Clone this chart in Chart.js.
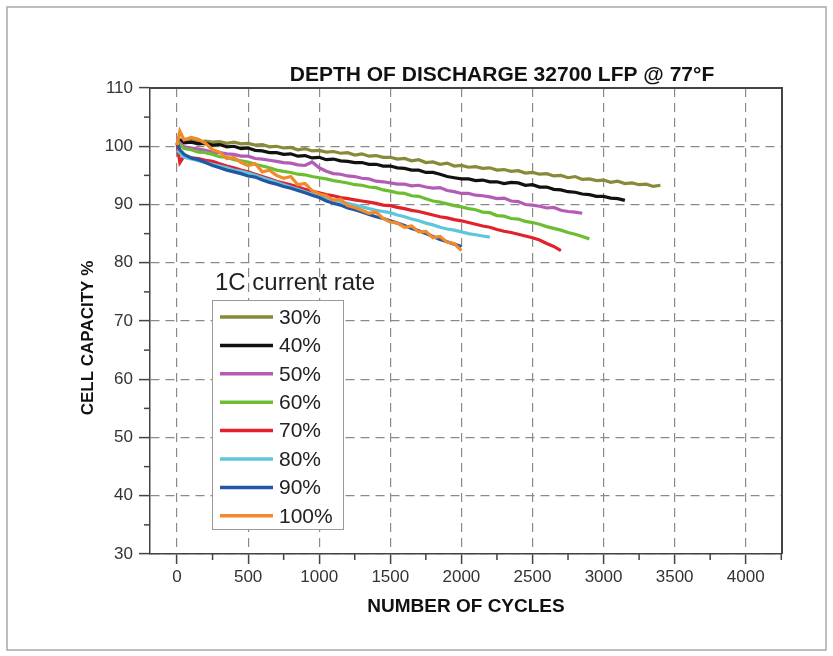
<!DOCTYPE html>
<html>
<head>
<meta charset="utf-8">
<script src="https://cdn.jsdelivr.net/npm/chart.js@4.4.1/dist/chart.umd.min.js"></script>
<style>
  html, body { margin: 0; padding: 0; background: #fff; }
  #wrap { width: 833px; height: 656px; position: relative; }
</style>
</head>
<body>
<div id="wrap"><canvas id="grafico"></canvas></div>
<script>
// ciclos (eixo x) - comum a todas as séries
const cycles = [0, 20, 50, 100, 150, 200, 250, 300, 350, 400, 450, 500, 550, 600, 650, 700, 750, 800, 850, 900,
  950, 1000, 1050, 1100, 1150, 1200, 1250, 1300, 1350, 1400, 1450, 1500, 1550, 1600, 1650, 1700, 1750, 1800, 1850, 1900,
  1950, 2000, 2050, 2100, 2150, 2200, 2250, 2300, 2350, 2400, 2450, 2500, 2550, 2600, 2650, 2700, 2750, 2800, 2850, 2900,
  2950, 3000, 3050, 3100, 3150, 3200, 3250, 3300, 3350, 3400];

const labels = ["30%", "40%", "50%", "60%", "70%", "80%", "90%", "100%"];
const cores = ["#878a38", "#111111", "#b35cb5", "#6dbd33", "#e3212b", "#5ec6dc", "#2456a6", "#f28a2c"];

// capacidade %
const cap30 = [100.6, 101.2, 100.9, 101.0, 100.7, 100.9, 100.7, 100.8, 100.5, 100.7, 100.4, 100.5, 100.2, 100.3, 99.9, 100.0, 99.7, 99.8, 99.4, 99.6,
  99.2, 99.3, 99.0, 99.1, 98.8, 98.9, 98.5, 98.7, 98.3, 98.4, 98.1, 98.1, 97.8, 97.9, 97.5, 97.7, 97.2, 97.3, 96.9, 97.1,
  96.6, 96.7, 96.4, 96.5, 96.2, 96.3, 95.9, 96.0, 95.7, 95.8, 95.4, 95.5, 95.2, 95.3, 94.9, 95.0, 94.6, 94.8, 94.3, 94.4,
  94.1, 94.2, 93.8, 94.0, 93.6, 93.7, 93.4, 93.5, 93.1, 93.3];
const cap40 = [100.4, 101.0, 100.6, 100.7, 100.4, 100.5, 100.2, 100.3, 99.9, 100.0, 99.6, 99.7, 99.3, 99.2, 98.9, 98.9, 98.6, 98.7, 98.3, 98.4,
  98.0, 98.1, 97.7, 97.8, 97.5, 97.4, 97.2, 97.2, 96.9, 96.9, 96.6, 96.6, 96.3, 96.2, 95.9, 95.9, 95.5, 95.5, 95.2, 94.8,
  94.6, 94.4, 94.4, 94.1, 94.2, 93.9, 93.9, 93.6, 93.8, 93.7, 93.3, 93.4, 93.0, 93.0, 92.6, 92.5, 92.2, 92.1, 91.8, 91.7,
  91.4, 91.4, 91.1, 91.0, 90.7];
const cap50 = [100.0, 100.6, 99.9, 99.7, 99.5, 99.3, 99.0, 98.9, 98.7, 98.6, 98.3, 98.3, 97.9, 97.8, 97.6, 97.4, 97.2, 97.1, 96.8, 96.7,
  97.3, 96.3, 95.7, 95.3, 95.2, 94.9, 94.8, 94.5, 94.4, 94.0, 93.9, 93.7, 93.5, 93.5, 93.2, 93.3, 93.0, 92.8, 92.9, 92.4,
  92.2, 91.9, 91.9, 91.6, 91.5, 91.3, 91.0, 91.1, 90.6, 90.5, 90.0, 89.9, 89.7, 89.4, 89.5, 89.0, 88.8, 88.7, 88.5];
const cap60 = [100.8, 100.2, 99.6, 99.4, 99.0, 98.9, 98.6, 98.2, 98.1, 97.7, 97.5, 97.3, 96.9, 96.6, 96.3, 95.9, 95.7, 95.5, 95.2, 95.1,
  94.8, 94.6, 94.4, 94.1, 93.9, 93.7, 93.4, 93.3, 93.0, 92.9, 92.5, 92.3, 92.0, 91.9, 91.5, 91.4, 91.0, 90.6, 90.4, 90.1,
  89.8, 89.6, 89.3, 89.1, 88.7, 88.6, 88.1, 88.0, 87.6, 87.5, 87.1, 86.9, 86.6, 86.2, 85.9, 85.6, 85.2, 84.9, 84.5, 84.1];
const cap70 = [100.5, 97.2, 98.3, 98.0, 97.9, 97.6, 97.4, 97.0, 96.6, 96.3, 95.9, 95.6, 95.2, 94.8, 94.4, 94.0, 93.7, 93.4, 93.0, 92.6,
  92.3, 92.0, 91.7, 91.5, 91.2, 91.0, 90.8, 90.6, 90.4, 90.2, 89.9, 89.8, 89.5, 89.3, 89.0, 88.8, 88.5, 88.2, 87.9, 87.7,
  87.4, 87.2, 86.9, 86.6, 86.3, 86.1, 85.7, 85.4, 85.2, 84.9, 84.6, 84.3, 83.9, 83.3, 82.8, 82.1];
const cap80 = [99.3, 98.9, 98.1, 97.8, 97.5, 97.2, 96.9, 96.6, 96.3, 95.9, 95.7, 95.4, 95.0, 94.6, 94.2, 93.8, 93.4, 93.0, 92.6, 92.2,
  91.8, 91.4, 91.1, 90.8, 90.5, 90.2, 89.9, 89.6, 89.3, 89.0, 88.8, 88.6, 88.2, 87.9, 87.5, 87.2, 86.8, 86.5, 86.1, 85.8,
  85.6, 85.3, 85.0, 84.8, 84.6, 84.4];
const cap90 = [100.6, 99.4, 98.6, 98.0, 97.7, 97.2, 96.7, 96.3, 95.9, 95.6, 95.3, 94.9, 94.7, 94.2, 93.8, 93.5, 93.1, 92.8, 92.4, 92.0,
  91.6, 91.2, 90.6, 90.2, 89.9, 89.4, 89.1, 88.7, 88.3, 87.9, 87.6, 87.2, 86.8, 86.4, 85.9, 85.5, 85.0, 84.5, 84.0, 83.6,
  83.2, 82.8];
const cap100 = [100.2, 102.6, 101.1, 101.5, 101.2, 100.5, 99.4, 99.0, 97.9, 98.1, 97.2, 96.7, 97.0, 95.6, 95.9, 95.0, 94.5, 94.8, 93.4, 93.6,
  92.4, 91.8, 91.5, 90.7, 90.9, 89.8, 89.5, 89.0, 88.5, 88.7, 87.6, 87.0, 86.8, 86.1, 86.3, 85.3, 85.4, 84.3, 84.5, 83.5,
  83.3, 82.1];

const series = [cap30, cap40, cap50, cap60, cap70, cap80, cap90, cap100];
const xTicks = [0, 500, 1000, 1500, 2000, 2500, 3000, 3500, 4000];
const xMinor = [250, 750, 1250, 1750, 2250, 2750, 3250, 3750, 4250];
const yMinor = [35, 45, 55, 65, 75, 85, 95, 105];

const fonte = '"Liberation Sans", Arial, sans-serif';

// moldura externa, títulos, ticks menores e legenda
const extras = {
  id: 'extras',
  beforeDraw(chart) {
    const ctx = chart.ctx;
    ctx.save();
    ctx.fillStyle = '#fff';
    ctx.fillRect(0, 0, chart.width, chart.height);
    ctx.strokeStyle = '#a8a8a8';
    ctx.lineWidth = 1.5;
    ctx.strokeRect(7, 7, 819, 643);
    ctx.restore();
  },
  afterDraw(chart) {
    const ctx = chart.ctx;
    const a = chart.chartArea;
    const sx = chart.scales.x, sy = chart.scales.y;
    ctx.save();

    // moldura do gráfico (topo e direita)
    ctx.strokeStyle = '#444';
    ctx.lineWidth = 2;
    ctx.beginPath();
    ctx.moveTo(a.left, a.top);
    ctx.lineTo(a.right, a.top);
    ctx.lineTo(a.right, a.bottom);
    ctx.stroke();

    // ticks menores
    ctx.lineWidth = 1.5;
    xMinor.forEach(v => {
      const px = sx.getPixelForValue(v);
      ctx.beginPath(); ctx.moveTo(px, a.bottom); ctx.lineTo(px, a.bottom + 6); ctx.stroke();
    });
    yMinor.forEach(v => {
      const py = sy.getPixelForValue(v);
      ctx.beginPath(); ctx.moveTo(a.left, py); ctx.lineTo(a.left - 6, py); ctx.stroke();
    });

    // título
    ctx.fillStyle = '#111';
    ctx.font = 'bold 21px ' + fonte;
    ctx.textBaseline = 'middle';
    ctx.textAlign = 'center';
    ctx.fillText('DEPTH OF DISCHARGE 32700 LFP @ 77°F', 502, 75);

    // título do eixo y
    ctx.save();
    ctx.translate(88, 338);
    ctx.rotate(-Math.PI / 2);
    ctx.font = 'bold 17px ' + fonte;
    ctx.fillText('CELL CAPACITY %', 0, 0);
    ctx.restore();

    // legenda
    ctx.textAlign = 'left';
    ctx.fillStyle = '#222';
    ctx.font = '24px ' + fonte;
    ctx.fillText('1C current rate', 215, 283);
    ctx.fillStyle = '#fff';
    ctx.fillRect(212, 300, 131, 229);
    ctx.strokeStyle = '#999';
    ctx.lineWidth = 1;
    ctx.strokeRect(212.5, 300.5, 131, 229);
    ctx.font = '21px ' + fonte;
    chart.data.datasets.forEach((ds, i) => {
      const y = 317 + i * 28.4;
      ctx.strokeStyle = ds.borderColor;
      ctx.lineWidth = 3.5;
      ctx.beginPath(); ctx.moveTo(220, y); ctx.lineTo(273, y); ctx.stroke();
      ctx.fillStyle = '#222';
      ctx.fillText(ds.label, 279, y + 1);
    });
    ctx.restore();
  }
};

new Chart(document.getElementById('grafico'), {
  type: 'line',
  data: {
    datasets: series.map((vals, i) => ({
      label: labels[i],
      data: vals.map((v, j) => ({ x: cycles[j], y: v })),
      borderColor: cores[i],
      backgroundColor: cores[i],
      borderWidth: 3.2,
      pointRadius: 0,
      tension: 0,
      order: series.length - i
    }))
  },
  options: {
    responsive: true,
    maintainAspectRatio: false,
    animation: false,
    layout: { padding: { top: 88, right: 51, left: 0, bottom: 0 } },
    plugins: { legend: { display: false }, tooltip: { enabled: false } },
    scales: {
      x: {
        type: 'linear',
        min: -190,
        max: 4255,
        afterBuildTicks: s => { s.ticks = xTicks.map(v => ({ value: v })); },
        afterFit: s => { s.height = 102; },
        grid: { color: '#8a8a8a', lineWidth: 1.2, tickLength: 10, tickColor: '#444', tickWidth: 1.5, tickBorderDash: [] },
        border: { color: '#444', width: 1.5, dash: [9, 6] },
        ticks: { font: { size: 17, family: fonte }, color: '#333', padding: 3, maxRotation: 0,
          callback: v => String(v) },
        title: { display: true, text: 'NUMBER OF CYCLES', color: '#111',
          font: { size: 19, weight: 'bold', family: fonte }, padding: { top: 0, bottom: 38 } }
      },
      y: {
        min: 30,
        max: 110,
        afterFit: s => { s.width = 150; },
        ticks: { stepSize: 10, font: { size: 17, family: fonte }, color: '#333', padding: 6,
          callback: v => String(v) },
        grid: { color: '#8a8a8a', lineWidth: 1.2, tickLength: 11, tickColor: '#444', tickWidth: 1.5, tickBorderDash: [] },
        border: { color: '#444', width: 1.5, dash: [9, 6] }
      }
    }
  },
  plugins: [extras]
});
</script>
</body>
</html>
